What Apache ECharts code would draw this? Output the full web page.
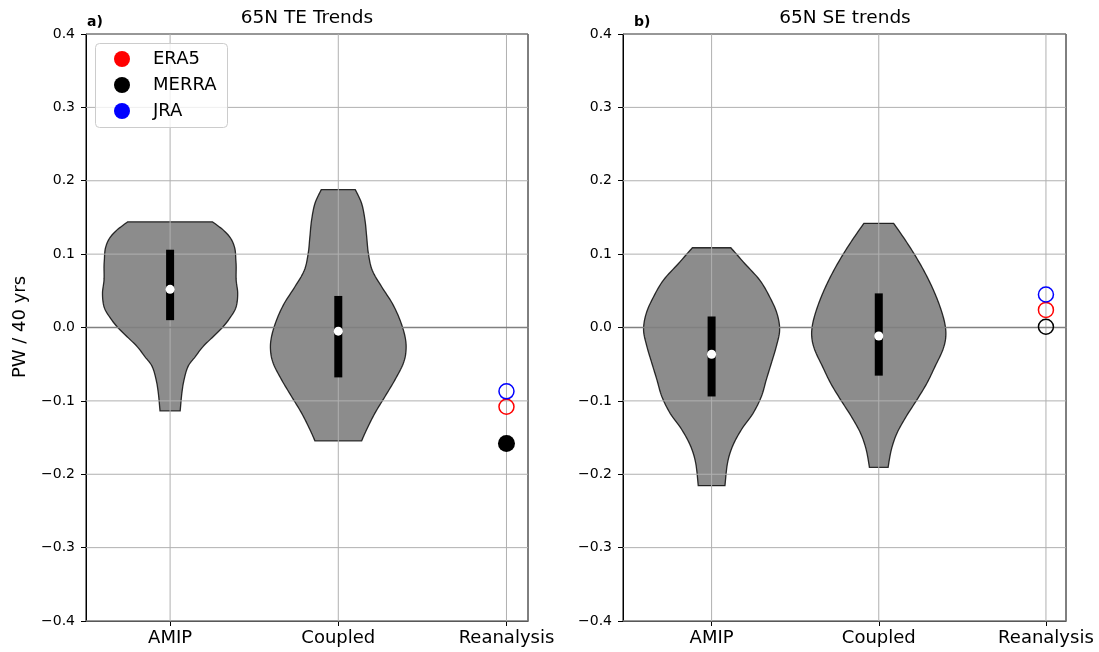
<!DOCTYPE html>
<html>
<head>
<meta charset="utf-8">
<title>65N TE / SE trends</title>
<script src="https://cdn.jsdelivr.net/npm/echarts@6/dist/echarts.min.js"></script>
<style>
  html, body { margin: 0; padding: 0; background: #fff; }
  #chart { width: 1099px; height: 652px; }
</style>
</head>
<body>
<div id="chart"></div>
<script>
// Category positions along x: 1, 2, 3
const categories = ['AMIP', 'Coupled', 'Reanalysis'];
const yTicks = [-0.4, -0.3, -0.2, -0.1, 0.0, 0.1, 0.2, 0.3, 0.4];

// Violin outlines: trend levels (PW / 40 yrs) and half-widths (x units)
const teAmipLevels = [0.144, 0.1327, 0.1213, 0.1077, 0.0918, 0.0827, 0.0646, 0.0465, 0.0283, 0.0147, 0.001, -0.0125, -0.026, -0.040, -0.053, -0.0714, -0.0895, -0.1136];
const teAmipHalfWidths = [0.252, 0.317, 0.361, 0.385, 0.391, 0.393, 0.393, 0.402, 0.393, 0.361, 0.315, 0.256, 0.196, 0.149, 0.107, 0.083, 0.070, 0.060];
const teAmipIqr = [0.010, 0.106];
const teAmipMedian = 0.052;

const teCoupledLevels = [0.188, 0.169, 0.146, 0.1235, 0.101, 0.078, 0.0555, 0.033, 0.0102, -0.0125, -0.0306, -0.0487, -0.0714, -0.094, -0.1167, -0.139, -0.1544];
const teCoupledHalfWidths = [0.101, 0.139, 0.159, 0.169, 0.179, 0.202, 0.258, 0.321, 0.367, 0.397, 0.403, 0.387, 0.337, 0.278, 0.218, 0.169, 0.139];
const teCoupledIqr = [-0.068, 0.043];
const teCoupledMedian = -0.005;

const seAmipLevels = [0.1087, 0.0873, 0.0646, 0.042, 0.0193, -0.0034, -0.026, -0.049, -0.0714, -0.094, -0.117, -0.139, -0.162, -0.185, -0.2156];
const seAmipHalfWidths = [0.115, 0.198, 0.288, 0.347, 0.391, 0.407, 0.387, 0.357, 0.327, 0.298, 0.248, 0.179, 0.125, 0.095, 0.080];
const seAmipIqr = [-0.094, 0.015];
const seAmipMedian = -0.0365;

const seCoupledLevels = [0.142, 0.119, 0.0965, 0.074, 0.051, 0.028, 0.0056, -0.0125, -0.0306, -0.053, -0.076, -0.0986, -0.121, -0.144, -0.1667, -0.1905];
const seCoupledHalfWidths = [0.089, 0.159, 0.222, 0.278, 0.327, 0.367, 0.395, 0.401, 0.383, 0.337, 0.288, 0.228, 0.165, 0.109, 0.075, 0.056];
const seCoupledIqr = [-0.0656, 0.0465];
const seCoupledMedian = -0.0116;

// Reanalysis trends
const teEra5 = -0.108;
const teMerra = -0.158;
const teJra = -0.087;
const seEra5 = 0.024;
const seMerra = 0.001;
const seJra = 0.045;

const FONT = 'DejaVu Sans';
const GRID_TOP = 34, GRID_H = 587;
const panels = [
  { left: 86, width: 442, xMin: 0.5, xMax: 3.128 },
  { left: 623, width: 443, xMin: 0.47, xMax: 3.12 }
];

function fmtY(v) {
  return (v < -1e-9 ? '\u2212' : '') + Math.abs(v).toFixed(1);
}

// Catmull-Rom pass through a list of pixel points, for a smooth outline
function smoothSide(pts, steps) {
  const out = [];
  const n = pts.length;
  for (let i = 0; i < n - 1; i++) {
    const p0 = pts[Math.max(i - 1, 0)], p1 = pts[i], p2 = pts[i + 1], p3 = pts[Math.min(i + 2, n - 1)];
    for (let s = 0; s < steps; s++) {
      const t = s / steps, t2 = t * t, t3 = t2 * t;
      out.push([
        0.5 * (2 * p1[0] + (-p0[0] + p2[0]) * t + (2 * p0[0] - 5 * p1[0] + 4 * p2[0] - p3[0]) * t2 + (-p0[0] + 3 * p1[0] - 3 * p2[0] + p3[0]) * t3),
        0.5 * (2 * p1[1] + (-p0[1] + p2[1]) * t + (2 * p0[1] - 5 * p1[1] + 4 * p2[1] - p3[1]) * t2 + (-p0[1] + 3 * p1[1] - 3 * p2[1] + p3[1]) * t3)
      ]);
    }
  }
  out.push(pts[n - 1]);
  return out;
}

function violin(idx, pos, levels, halfWidths) {
  return {
    type: 'custom', xAxisIndex: idx, yAxisIndex: idx, z: 1, silent: true,
    data: [[pos, 0]],
    renderItem: function (params, api) {
      const leftSide = levels.map(function (y, i) { return api.coord([pos - halfWidths[i], y]); });
      const rightSide = levels.map(function (y, i) { return api.coord([pos + halfWidths[i], y]); });
      const pts = smoothSide(leftSide, 8).concat(smoothSide(rightSide, 8).reverse());
      return {
        type: 'polygon', shape: { points: pts },
        style: { fill: '#8c8c8c', stroke: 'rgba(0,0,0,0.8)', lineWidth: 1.3 }
      };
    }
  };
}

function gridLines(idx) {
  return {
    type: 'custom', xAxisIndex: idx, yAxisIndex: idx, z: 2, silent: true,
    data: [[1, 0]],
    renderItem: function (params, api) {
      const p = panels[idx];
      const children = [];
      yTicks.forEach(function (t) {
        const a = api.coord([p.xMin, t]), b = api.coord([p.xMax, t]);
        children.push({ type: 'line', shape: { x1: a[0], y1: a[1], x2: b[0], y2: b[1] },
          style: { stroke: '#b0b0b0', lineWidth: 1 } });
      });
      [1, 2, 3].forEach(function (x) {
        const a = api.coord([x, -0.4]), b = api.coord([x, 0.4]);
        children.push({ type: 'line', shape: { x1: a[0], y1: a[1], x2: b[0], y2: b[1] },
          style: { stroke: '#b0b0b0', lineWidth: 1 } });
      });
      // zero reference line
      const z0 = api.coord([p.xMin, 0]), z1 = api.coord([p.xMax, 0]);
      children.push({ type: 'line', shape: { x1: z0[0], y1: z0[1], x2: z1[0], y2: z1[1] },
        style: { stroke: '#808080', lineWidth: 1.6 } });
      return { type: 'group', children: children };
    }
  };
}

function iqrBar(idx, pos, iqr) {
  return {
    type: 'custom', xAxisIndex: idx, yAxisIndex: idx, z: 3, silent: true,
    data: [[pos, iqr[0], iqr[1]]],
    renderItem: function (params, api) {
      const lo = api.coord([api.value(0), api.value(1)]);
      const hi = api.coord([api.value(0), api.value(2)]);
      return { type: 'rect', shape: { x: lo[0] - 4, y: hi[1], width: 8, height: lo[1] - hi[1] },
        style: { fill: '#000' } };
    }
  };
}

function medians(idx, values) {
  return {
    type: 'scatter', xAxisIndex: idx, yAxisIndex: idx, z: 4, silent: true,
    symbol: 'circle', symbolSize: 9,
    itemStyle: { color: '#ffffff', borderWidth: 0, opacity: 1 },
    data: values.map(function (v, i) { return [i + 1, v]; })
  };
}

function reanalysis(idx, name, value, color, filled) {
  return {
    name: name, type: 'scatter', xAxisIndex: idx, yAxisIndex: idx, z: 5, silent: true,
    symbol: 'circle', symbolSize: filled ? 17 : 15,
    itemStyle: filled
      ? { color: color, borderWidth: 0, opacity: 1 }
      : { color: 'rgba(0,0,0,0)', borderColor: color, borderWidth: 1.5, opacity: 1 },
    data: [[3, value]]
  };
}

const chart = echarts.init(document.getElementById('chart'), null, { renderer: 'canvas' });

const xAxes = panels.map(function (p, i) {
  return {
    type: 'value', gridIndex: i, min: p.xMin, max: p.xMax,
    axisLine: { show: true, onZero: false, lineStyle: { color: '#000', width: 1 } },
    axisTick: { show: true, customValues: [1, 2, 3], length: 5, lineStyle: { color: '#000' } },
    axisLabel: {
      customValues: [1, 2, 3], margin: 8, color: '#000', fontFamily: FONT, fontSize: 18,
      formatter: function (v) { return categories[Math.round(v) - 1]; }
    },
    splitLine: { show: false }
  };
});
const yAxes = panels.map(function (p, i) {
  return {
    type: 'value', gridIndex: i, min: -0.4, max: 0.4, interval: 0.1,
    axisLine: { show: true, lineStyle: { color: '#000', width: 1 } },
    axisTick: { show: true, length: 5, lineStyle: { color: '#000' } },
    axisLabel: { margin: 11, color: '#000', fontFamily: FONT, fontSize: 14, formatter: fmtY },
    splitLine: { show: false }
  };
});

const option = {
  animation: false,
  backgroundColor: '#fff',
  textStyle: { fontFamily: FONT },
  grid: panels.map(function (p) {
    return { left: p.left, top: GRID_TOP, width: p.width, height: GRID_H,
      show: true, borderColor: '#000', borderWidth: 1, backgroundColor: 'transparent' };
  }),
  xAxis: xAxes,
  yAxis: yAxes,
  legend: {
    z: 8,
    left: 111, top: 43, orient: 'vertical',
    padding: [7, 0, 0, 3],
    itemWidth: 48, itemHeight: 16, itemGap: 8,
    icon: 'circle', selectedMode: false,
    textStyle: { fontFamily: FONT, fontSize: 18, color: '#000', lineHeight: 16, padding: [0, 0, 0, 2] },
    data: [
      { name: 'ERA5', itemStyle: { color: '#ff0000', borderWidth: 0 } },
      { name: 'MERRA', itemStyle: { color: '#000000', borderWidth: 0 } },
      { name: 'JRA', itemStyle: { color: '#0000ff', borderWidth: 0 } }
    ]
  },
  graphic: {
    z: 3,
    elements: [
      { type: 'rect', z: 3, shape: { x: 95.5, y: 43.5, width: 132, height: 84, r: 4 },
        style: { fill: 'rgba(255,255,255,0.8)', stroke: '#cccccc', lineWidth: 1 } },
      { type: 'text', x: 307, y: 18, style: { text: '65N TE Trends', font: '18.5px "DejaVu Sans"', fill: '#000', align: 'center', verticalAlign: 'middle' } },
      { type: 'text', x: 845, y: 18, style: { text: '65N SE trends', font: '18.5px "DejaVu Sans"', fill: '#000', align: 'center', verticalAlign: 'middle' } },
      { type: 'text', x: 87, y: 22, style: { text: 'a)', font: 'bold 14px "DejaVu Sans"', fill: '#000', align: 'left', verticalAlign: 'middle' } },
      { type: 'text', x: 634, y: 22, style: { text: 'b)', font: 'bold 14px "DejaVu Sans"', fill: '#000', align: 'left', verticalAlign: 'middle' } },
      { type: 'text', x: 20, y: 327, rotation: Math.PI / 2, style: { text: 'PW / 40 yrs', font: '18px "DejaVu Sans"', fill: '#000', align: 'center', verticalAlign: 'middle' } }
    ]
  },
  series: [
    violin(0, 1, teAmipLevels, teAmipHalfWidths),
    violin(0, 2, teCoupledLevels, teCoupledHalfWidths),
    violin(1, 1, seAmipLevels, seAmipHalfWidths),
    violin(1, 2, seCoupledLevels, seCoupledHalfWidths),
    gridLines(0),
    gridLines(1),
    iqrBar(0, 1, teAmipIqr),
    iqrBar(0, 2, teCoupledIqr),
    iqrBar(1, 1, seAmipIqr),
    iqrBar(1, 2, seCoupledIqr),
    medians(0, [teAmipMedian, teCoupledMedian]),
    medians(1, [seAmipMedian, seCoupledMedian]),
    reanalysis(0, 'ERA5', teEra5, '#ff0000', false),
    reanalysis(0, 'MERRA', teMerra, '#000000', true),
    reanalysis(0, 'JRA', teJra, '#0000ff', false),
    reanalysis(1, 'ERA5', seEra5, '#ff0000', false),
    reanalysis(1, 'MERRA', seMerra, '#000000', false),
    reanalysis(1, 'JRA', seJra, '#0000ff', false)
  ]
};

chart.setOption(option);
</script>
</body>
</html>
